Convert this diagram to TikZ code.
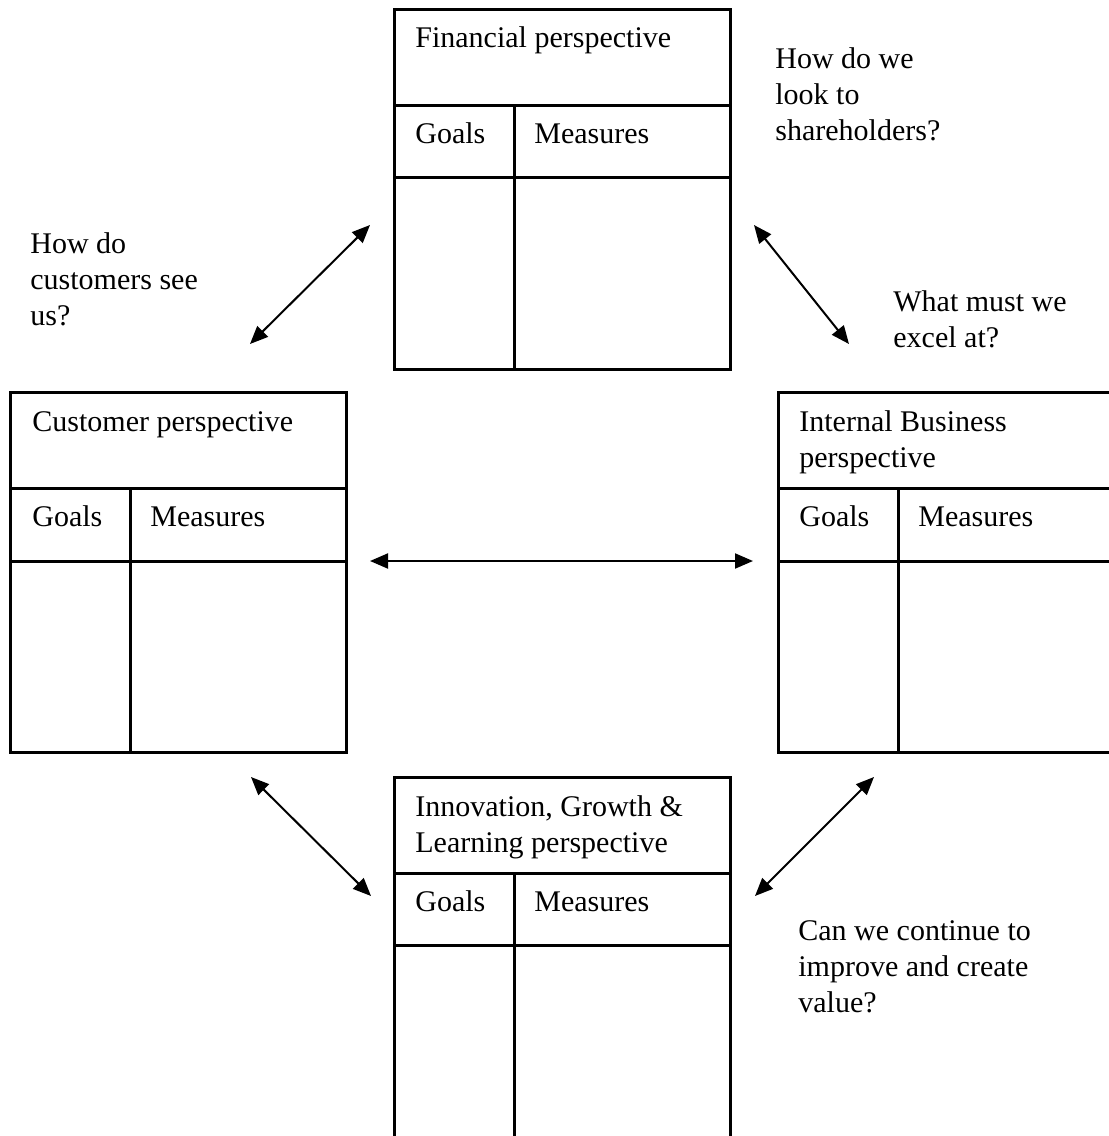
\documentclass[tikz,border=0pt]{standalone}
\usepackage{fontspec}
\setmainfont{Liberation Serif}
\usetikzlibrary{positioning}
\usetikzlibrary{arrows.meta}
\tikzset{frame/.style={draw=black,line width=1.5pt}}
\tikzset{txt/.style={anchor=base west,inner sep=0pt,align=left,font=\fontsize{15}{18}\selectfont}}
\tikzset{link/.style={line width=1pt,{Triangle[length=9pt,width=7.5pt]}-{Triangle[length=9pt,width=7.5pt]}}}

\begin{document}
\begin{tikzpicture}[x=0.5pt,y=-0.5pt]
            \clip (0,0) rectangle (1109,1136);
            % Financial
            \draw[frame] (394,9) rectangle (730,369);
            \draw[frame] (394,105) -- (730,105) (394,177) -- (730,177) (514,105) -- (514,369);
            \node[txt] (fin) at (415,47) {Financial perspective};
            \node[txt] (fingoals) at (415,143) {Goals};
            \node[txt] (finmeas) at (534,143) {Measures};
            % Customer
            \draw[frame] (10,392) rectangle (346,752);
            \draw[frame] (10,488) -- (346,488) (10,561) -- (346,561) (130,488) -- (130,752);
            \node[txt] (cust) at (32,431) {Customer perspective};
            \node[txt] (custgoals) at (32,526) {Goals};
            \node[txt] (custmeas) at (150,526) {Measures};
            % Internal business (base = last line)
            \draw[frame] (778,392) rectangle (1114,752);
            \draw[frame] (778,488) -- (1114,488) (778,561) -- (1114,561) (898,488) -- (898,752);
            \node[txt] (intl) at (799,467) {Internal Business\\perspective};
            \node[txt] (intlgoals) at (799,526) {Goals};
            \node[txt] (intlmeas) at (918,526) {Measures};
            % Innovation
            \draw[frame] (394,777) rectangle (730,1138);
            \draw[frame] (394,873) -- (730,873) (394,945) -- (730,945) (514,873) -- (514,1138);
            \node[txt] (innov) at (415,852) {Innovation, Growth \&\\Learning perspective};
            \node[txt] (innovgoals) at (415,911) {Goals};
            \node[txt] (innovmeas) at (534,911) {Measures};
            % questions
            \node[txt] (qfin) at (775,140) {How do we\\look to\\shareholders?};
            \node[txt] (qcust) at (30,325) {How do\\customers see\\us?};
            \node[txt] (qintl) at (893,347) {What must we\\excel at?};
            \node[txt] (qinnov) at (798,1012) {Can we continue to\\improve and create\\value?};
            % links
            \coordinate (l1a) at (370,225); \coordinate (l1b) at (250,344);
            \coordinate (l2a) at (754,225); \coordinate (l2b) at (849,344);
            \coordinate (l3a) at (370,561); \coordinate (l3b) at (753,561);
            \coordinate (l4a) at (251,777); \coordinate (l4b) at (371,896);
            \coordinate (l5a) at (874,777); \coordinate (l5b) at (755,896);
            \draw[link] (l1a) -- (l1b);
            \draw[link] (l2a) -- (l2b);
            \draw[link] (l3a) -- (l3b);
            \draw[link] (l4a) -- (l4b);
            \draw[link] (l5a) -- (l5b);
        \end{tikzpicture}
\end{document}
